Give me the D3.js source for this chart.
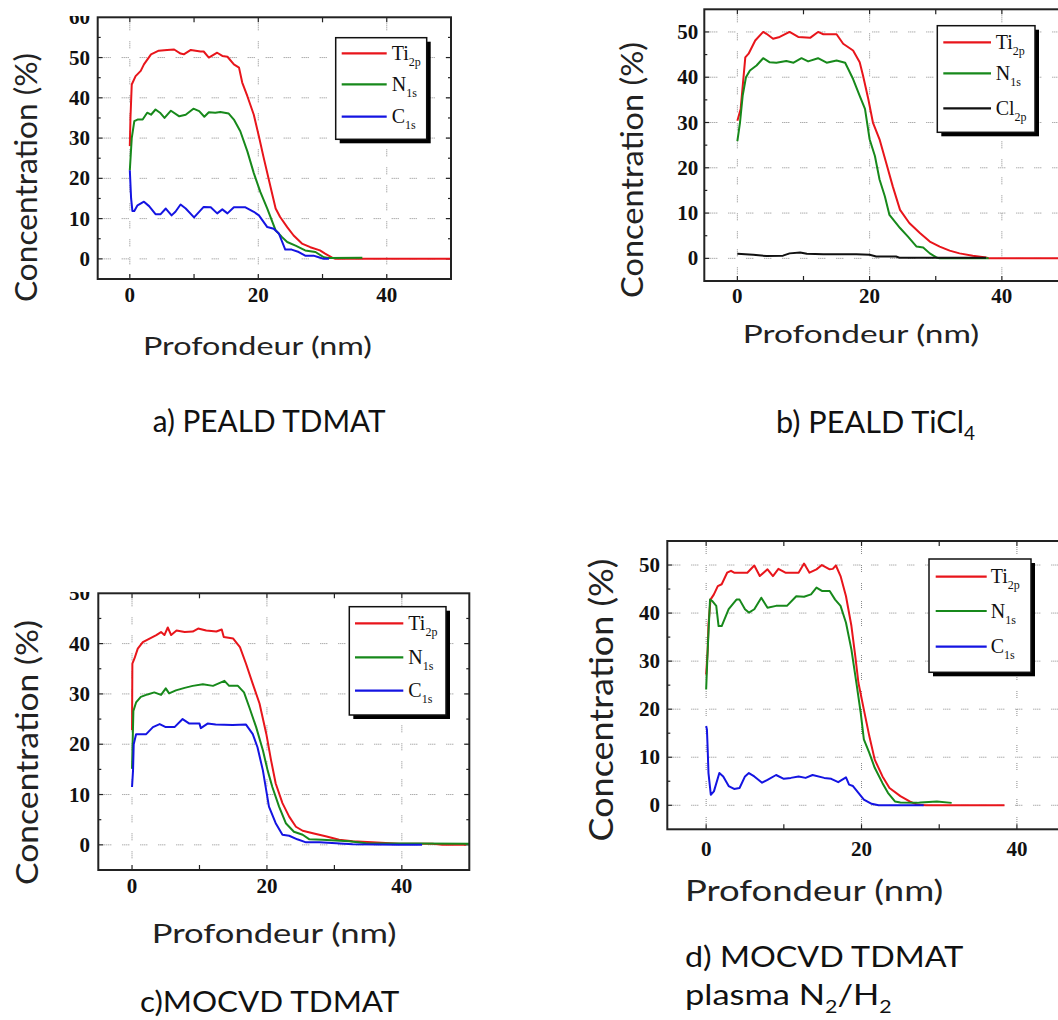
<!DOCTYPE html>
<html><head><meta charset="utf-8">
<script src="https://cdn.jsdelivr.net/npm/d3@7"></script>
<style>html,body{margin:0;padding:0;background:#fff;} svg{display:block;}</style>
</head><body>
<svg id="chart" width="1058" height="1020"></svg>
<script>
// ---------------- DATA ----------------
// Panel a) PEALD TDMAT
const aTiX = [0,0.1,0.3,0.9,1.7,2.2,3.3,4.5,5.8,6.9,7.9,8.4,9.5,11,11.5,12.3,13.6,14.4,15.2,16.2,17,17.5,18.3,19.3,20.1,20.8,21.9,22.7,23.4,24.5,25.5,26.8,28.1,29.6,30.4,31.5,32,50];
const aTiY = [28,35,43.3,45.4,46.7,48.3,50.8,51.7,51.9,52,51,50.8,51.9,51.5,51.5,50,51.2,50.4,50.2,48.3,47.5,43.8,40.4,35.8,30.4,25.4,17.9,12.5,10.4,7.9,5.8,3.8,2.9,2.1,1.3,0.3,0,0];
const aNX  = [0,0.3,0.7,1.2,2,2.7,3.3,4,4.7,5.4,6.4,7.7,8.7,9.9,10.8,11.6,12.3,13.3,14.1,15.4,16.2,17.2,18.3,19.3,20.3,21.4,22.7,23.7,24.5,25.8,27.3,28.9,30.2,30.9,36.2];
const aNY  = [22,30,34.2,34.6,34.6,36.3,35.8,37.1,36.3,35,36.8,35.4,35.8,37.3,36.7,35.3,36.4,36.3,36.5,36.1,34.6,31.7,26.7,21.3,16.7,12.5,7.1,5.4,4.2,3.3,2.1,1.7,0.4,0.2,0.3];
const aCX  = [0,0.2,0.4,0.7,1.2,2.2,3,4,4.8,5.6,6.5,7.1,7.9,8.7,10,11.5,12.6,13.6,14.4,15.2,16.2,18,19.3,20.1,21.4,22.4,23.2,24.2,25.2,26.3,27.3,28.6,29.4,30.2,31];
const aCY  = [22,15,11.9,11.9,13.3,14.2,13.1,11.1,11.1,12.5,10.8,11.7,13.5,12.5,10.3,12.9,12.8,11.3,12.3,11.3,12.8,12.8,11.7,10.8,7.9,7.5,6.3,2.3,2.3,1.7,0.8,0.8,0.4,0,0];

// Panel b) PEALD TiCl4
const bTiX = [0,0.5,1.2,1.7,2.7,3.9,4.4,5.4,6.4,7.9,9.2,11,12.2,13,15,16,17.5,18.5,19,19.8,20.5,21.5,22.5,23.5,24.6,26,27.6,29.1,30.6,32.1,33.6,35.6,37.6,38.1,50];
const bTiY = [30.4,33,44.4,45.2,48.1,50,49.6,48.5,48.9,50,48.9,48.7,50,49.5,49.5,47.4,45.9,43.3,40.4,35.2,30,26.3,21.1,15.9,10.7,7.8,5.6,3.7,2.6,1.7,1.1,0.6,0.2,0,0];
const bNX  = [0,0.4,0.8,1.3,1.9,2.9,3.9,4.9,5.9,7.4,8.5,9.7,10.7,12.2,13.5,15,16.3,17.5,18.5,19.3,20,20.8,21.5,22.3,23,24.6,25.8,27.1,28.1,29.1,30.1,30.6,38];
const bNY  = [25.9,30,35.9,40,41.5,42.6,44.2,43.3,43.2,43.6,43.2,44.2,43.5,44.2,43.2,43.7,43.2,39.6,35.9,33,26.3,22.6,17.4,13.7,9.6,6.7,4.8,2.6,2.4,1.1,0.2,0,0];
const bClX = [0,2.4,4.4,6.9,7.9,9.5,10.5,13,18,20,21,24,24.5,28,37.6];
const bClY = [1,0.8,0.5,0.6,1.1,1.3,1,0.9,0.9,0.8,0.4,0.4,0.15,0.15,0.15];

// Panel c) MOCVD TDMAT
const cTiX = [0,0.05,0.35,0.85,1.6,2.6,3.6,4.3,4.8,5.3,5.8,6.6,7.8,9,9.8,11,12.5,13.3,13.6,15,16,16.9,17.9,18.9,19.9,20.6,21.3,22.3,23.3,24.3,25.3,26.8,28.7,30.7,32.7,35.6,39.6,44.5,46,49.5];
const cTiY = [22.8,36,37,39,40.3,41,41.7,42.3,41.7,43.2,41.7,42.6,42.3,42.4,43,42.6,42.4,42.8,41.3,41,39.3,36,32,28.1,22.1,16.9,12.2,8.3,5.6,3.6,2.8,2.3,1.7,1,0.7,0.5,0.2,0.2,0,0];
const cNX  = [0,0.2,0.6,1.3,2.3,3.3,4.3,5,5.5,6.5,7.8,9,10.5,12,13.7,14.4,15.7,16.6,17.4,18.4,19.4,20.1,20.8,21.8,22.8,24,25.3,26.3,28.2,32.2,34.7,50];
const cNY  = [15.1,26.6,28.3,29.4,29.9,30.3,29.8,31.1,30.1,30.7,31.2,31.6,31.9,31.6,32.6,31.6,31.6,30.3,27.3,23.4,18.8,14.8,11.5,7.6,4.3,2.6,2,1.1,1,0.7,0.3,0.2];
const cCX  = [0,0.15,0.25,0.6,2.1,3.1,4.1,5,6.3,7.5,8.5,10,10.2,11.2,12.4,14.9,16.9,17.9,18.6,19.4,20.3,21.3,22.3,23.3,24.5,25.8,27.8,32.7,39.6,43];
const cCY  = [11.5,14.8,20,22,22,23.4,24,23.4,23.4,25,24.1,24.1,23.2,24.1,23.9,23.8,23.9,22,19.4,14.8,7.6,4.3,2,1.8,1.1,0.5,0.5,0.1,0,0];

// Panel d) MOCVD TDMAT plasma N2/H2
const dTiX = [0,0.2,0.3,0.56,1,1.5,2,2.7,3.2,3.6,5.3,6.2,6.9,7.9,8.6,9.3,10.2,11.9,12.6,13.3,14.2,14.9,15.9,16.3,16.7,17.3,18,18.7,19.2,19.6,20.3,21,21.7,22.7,23.6,25,26.2,27.2,28.3,38.4];
const dTiY = [27.2,32.4,37.6,42.8,43.9,45.6,46,48.4,48.8,48.4,48.4,49.9,47.7,49.1,47.7,49.2,48.4,48.4,50.3,48.4,49.1,50,49.1,49.2,49.9,47.7,43.5,37.3,31,25.5,19.9,14.4,9.5,6,3.6,1.9,0.8,0.1,0,0];
const dNX  = [0,0.2,0.5,0.8,1.3,1.6,2,2.9,3.9,4.3,5,5.5,6.2,7.1,7.9,9,10.4,11.6,12.6,13.5,14.2,14.9,15.9,16.6,17.3,18,18.7,19.4,19.9,20.3,21,21.7,22.7,23.4,24.3,25,27.2,27.6,29.7,31.6];
const dNY  = [24.1,32.4,42.8,42.5,41.5,37.3,37.3,40.8,42.8,42.8,40.8,40.1,40.8,43.2,41.1,41.5,41.5,43.5,43.4,43.9,45.3,44.6,44.6,42.8,41.5,38,32.4,24.8,19.2,13.7,10.9,7.8,4.6,2.6,0.8,0.6,0.5,0.6,0.8,0.5];
const dCX  = [0,0.1,0.2,0.3,0.6,1,1.7,2.2,2.9,3.6,4.3,5,5.5,6.2,7.2,7.9,9,10,10.9,11.9,12.8,13.7,15.2,16.1,17,18,18.4,18.9,19.6,20.3,21.3,22.2,28];
const dCY  = [16.5,15.8,11.6,6.7,2.2,2.9,6.7,6,4,3.4,3.6,6,6.7,6,4.7,5.3,6.3,5.5,5.7,6,5.7,6.3,5.7,5.5,4.8,5.8,4.3,4,2.6,1.2,0.3,0,0];

// Ticks and labels
const xTickLabels = [0, 20, 40];
const xTickMarks  = [0, 10, 20, 30, 40, 50];
const yTicksA = [0, 10, 20, 30, 40, 50, 60];
const yTicksB = [0, 10, 20, 30, 40, 50];
const yTicksC = [0, 10, 20, 30, 40, 50];
const yTicksD = [0, 10, 20, 30, 40, 50];
const legendTiNC  = [["Ti","2p"], ["N","1s"], ["C","1s"]];
const legendTiNCl = [["Ti","2p"], ["N","1s"], ["Cl","2p"]];
const xTitle = "Profondeur (nm)";
const yTitle = "Concentration (%)";
const captionA = [["a) PEALD TDMAT", ""]];
const captionB = [["b) PEALD TiCl", "4"]];
const captionC = [["c)MOCVD TDMAT", ""]];
const captionD1 = [["d) MOCVD TDMAT", ""]];
const captionD2 = [["plasma N", "2"], ["/H", "2"]];

// ---------------- STYLE / LAYOUT ----------------
const COL = { Ti: "#e8151b", N: "#17891b", C: "#1414e2", Cl: "#111111" };
const SANS = "Lato, 'Open Sans', sans-serif";
const SERIF = "'Liberation Serif', 'DejaVu Serif', serif";

const panels = [
  { series: [[aTiX,aTiY,COL.Ti],[aNX,aNY,COL.N],[aCX,aCY,COL.C]], legend: legendTiNC,
    xr: [97.7, 451], yr: [279, 17.3], yDom: [-5, 60], yTicks: yTicksA, labRight: 90, xLabBase: 301.7, clipTop: 16,
    leg: { x0: 335.7, y0: 37.7, x1: 426.7, y1: 139.3, lx0: 341.7, lx1: 386.7, ly: [53.3, 84.3, 116.7], tx: 391.7 },
    xt: { x: 143, w: 229, base: 355, fs: 25.5 }, yt: { bx: 36.7, cy: 177.5, len: 249, fs: 30.3 },
    caps: [{ parts: captionA, x: 152.7, w: 233.3, base: 432.3, fs: 30 }] },
  { series: [[bTiX,bTiY,COL.Ti],[bNX,bNY,COL.N],[bClX,bClY,COL.Cl]], legend: legendTiNCl,
    xr: [704.3, 1068], yr: [281, 9.3], yDom: [-5, 55], yTicks: yTicksB, labRight: 698.3, xLabBase: 303, clipTop: null,
    leg: { x0: 937.3, y0: 25.7, x1: 1035, y1: 132.3, lx0: 943.3, lx1: 991, ly: [42.3, 73.3, 108.3], tx: 995.7 },
    xt: { x: 742.7, w: 236.6, base: 343.3, fs: 25 }, yt: { bx: 643.3, cy: 170, len: 256, fs: 30 },
    caps: [{ parts: captionB, x: 776, w: 199, base: 433.3, fs: 31.5 }] },
  { series: [[cTiX,cTiY,COL.Ti],[cNX,cNY,COL.N],[cCX,cCY,COL.C]], legend: legendTiNC,
    xr: [98.3, 469.3], yr: [870, 593.3], yDom: [-5, 50], yTicks: yTicksC, labRight: 90, xLabBase: 893.3, clipTop: 592,
    leg: { x0: 349.3, y0: 606.7, x1: 446, y1: 715, lx0: 355, lx1: 403.3, ly: [623.3, 657.3, 690.7], tx: 408.3 },
    xt: { x: 151.7, w: 245, base: 942.7, fs: 27 }, yt: { bx: 38.3, cy: 752.5, len: 265, fs: 30 },
    caps: [{ parts: captionC, x: 140, w: 260, base: 1011.7, fs: 28 }] },
  { series: [[dTiX,dTiY,COL.Ti],[dNX,dNY,COL.N],[dCX,dCY,COL.C]], legend: legendTiNC,
    xr: [667.3, 1094.6], yr: [829.3, 541], yDom: [-5, 55], yTicks: yTicksD, labRight: 660, xLabBase: 855.5, clipTop: null,
    leg: { x0: 929, y0: 559, x1: 1031, y1: 672.3, lx0: 935.7, lx1: 986.7, ly: [576.7, 611, 646.7], tx: 990.7 },
    xt: { x: 685, w: 258.3, base: 900.7, fs: 28.5 }, yt: { bx: 613.3, cy: 700, len: 283, fs: 32.5 },
    caps: [{ parts: captionD1, x: 685, w: 278.3, base: 966.7, fs: 29.3 },
           { parts: captionD2, x: 685, w: 206.7, base: 1005, fs: 29.3, subDy: 8 }] }
];

const svg = d3.select("#chart");
svg.append("rect").attr("width", 1058).attr("height", 1020).attr("fill", "#fff");
const defs = svg.append("defs");

function fitH(sel, x, base, w) {
  const bb = sel.node().getBBox();
  const s = w / bb.width;
  sel.attr("transform", `translate(${x - bb.x * s},${base}) scale(${s},1)`);
}

panels.forEach((p, i) => {
  const g = svg.append("g");
  const x = d3.scaleLinear().domain([-5, 50]).range(p.xr);
  const y = d3.scaleLinear().domain(p.yDom).range(p.yr);
  const [L, R] = p.xr, [B, T] = p.yr;

  // grid (dotted)
  const grid = g.append("g").attr("stroke", "#8a8a8a").attr("stroke-width", 1)
    .attr("stroke-dasharray", "1,1,1,1,1,1,1,11").attr("fill", "none");
  p.yTicks.filter(v => y(v) > T + 1).forEach(v => {
    grid.append("line").attr("x1", L + 6).attr("x2", R).attr("y1", y(v)).attr("y2", y(v));
  });
  xTickLabels.forEach(v => {
    grid.append("line").attr("x1", x(v)).attr("x2", x(v)).attr("y1", T + 6).attr("y2", B - 2);
  });

  // tick marks (inward, all sides)
  const tk = g.append("g").attr("stroke", "#222").attr("stroke-width", 1.2);
  xTickMarks.filter(v => x(v) < R).forEach(v => {
    tk.append("line").attr("x1", x(v)).attr("x2", x(v)).attr("y1", B).attr("y2", B - 5);
    tk.append("line").attr("x1", x(v)).attr("x2", x(v)).attr("y1", T).attr("y2", T + 5);
  });
  d3.range(0, p.yDom[1] + 0.1, 5).filter(v => y(v) > T + 1).forEach(v => {
    const len = v % 10 === 0 ? 5 : 3;
    tk.append("line").attr("x1", L).attr("x2", L + len).attr("y1", y(v)).attr("y2", y(v));
    tk.append("line").attr("x1", R).attr("x2", R - len).attr("y1", y(v)).attr("y2", y(v));
  });

  // curves
  const line = d3.line().x(d => x(d[0])).y(d => y(d[1]));
  const cg = g.append("g").attr("fill", "none").attr("stroke-width", 2).attr("stroke-linejoin", "round");
  p.series.forEach(([xs, ys, col]) => {
    cg.append("path").attr("d", line(xs.map((v, k) => [v, ys[k]]))).attr("stroke", col);
  });

  // frame
  g.append("rect").attr("x", L).attr("y", T).attr("width", R - L).attr("height", B - T)
    .attr("fill", "none").attr("stroke", "#222").attr("stroke-width", 2);

  // tick labels
  const lab = g.append("g").style("font-family", SERIF).style("font-weight", "bold").style("font-size", "21px").attr("fill", "#111");
  if (p.clipTop !== null) {
    const id = "clip" + i;
    defs.append("clipPath").attr("id", id).append("rect")
      .attr("x", 0).attr("y", p.clipTop).attr("width", 1058).attr("height", 1020);
    lab.attr("clip-path", `url(#${id})`);
  }
  p.yTicks.forEach(v => {
    lab.append("text").attr("x", p.labRight).attr("y", y(v) + 7).attr("text-anchor", "end").text(v);
  });
  xTickLabels.forEach(v => {
    lab.append("text").attr("x", x(v)).attr("y", p.xLabBase).attr("text-anchor", "middle").text(v);
  });

  // legend
  const lg = p.leg;
  g.append("rect").attr("x", lg.x0 + 4).attr("y", lg.y0 + 4).attr("width", lg.x1 - lg.x0).attr("height", lg.y1 - lg.y0).attr("fill", "#000");
  g.append("rect").attr("x", lg.x0).attr("y", lg.y0).attr("width", lg.x1 - lg.x0).attr("height", lg.y1 - lg.y0)
    .attr("fill", "#fff").attr("stroke", "#111").attr("stroke-width", 1.5);
  p.legend.forEach(([name, sub], k) => {
    g.append("line").attr("x1", lg.lx0).attr("x2", lg.lx1).attr("y1", lg.ly[k]).attr("y2", lg.ly[k])
      .attr("stroke", p.series[k][2]).attr("stroke-width", 2.2);
    const t = g.append("text").attr("x", lg.tx).attr("y", lg.ly[k] + 6.5)
      .style("font-family", SERIF).style("font-size", "20px").attr("fill", "#111").text(name);
    t.append("tspan").attr("dy", 6).style("font-size", "12px").text(sub);
  });

  // x title
  const xt = g.append("text").style("font-family", SANS).style("font-size", p.xt.fs + "px").attr("fill", "#222").text(xTitle);
  fitH(xt, p.xt.x, p.xt.base, p.xt.w);

  // y title (rotated)
  const yt = g.append("text").style("font-family", SANS).style("font-size", p.yt.fs + "px").attr("fill", "#222")
    .attr("text-anchor", "middle").text(yTitle);
  const w = yt.node().getBBox().width;
  yt.attr("transform", `translate(${p.yt.bx},${p.yt.cy}) rotate(-90) scale(${p.yt.len / w},1)`);

  // captions (with subscripts)
  p.caps.forEach(c => {
    const t = g.append("text").style("font-family", SANS).style("font-size", c.fs + "px").attr("fill", "#111");
    const dy = c.subDy || 7;
    let offset = 0;
    c.parts.forEach(([main, sub]) => {
      t.append("tspan").attr("dy", -offset).text(main);
      offset = 0;
      if (sub) {
        t.append("tspan").attr("dy", dy).style("font-size", (c.fs * 0.62) + "px").text(sub);
        offset = dy;
      }
    });
    fitH(t, c.x, c.base, c.w);
  });
});
</script>
</body></html>
